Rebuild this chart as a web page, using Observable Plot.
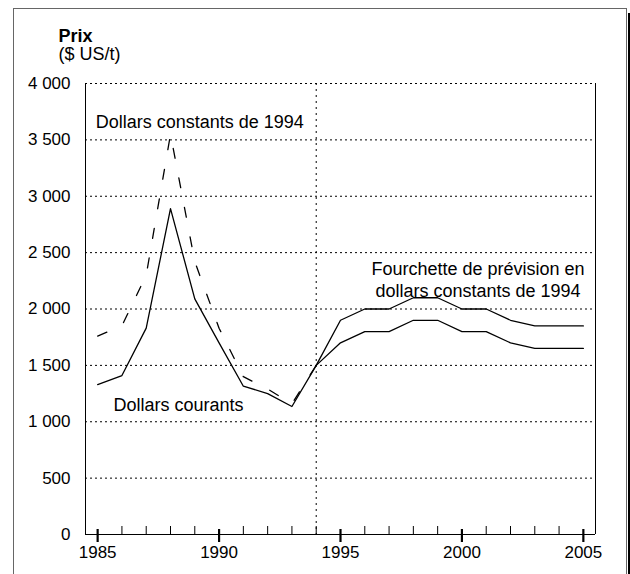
<!DOCTYPE html>
<html>
<head>
<meta charset="utf-8">
<script src="https://cdn.jsdelivr.net/npm/d3@7"></script>
<script src="https://cdn.jsdelivr.net/npm/@observablehq/plot@0.6"></script>
<style>
html, body { margin: 0; padding: 0; background: #fff; }
#wrap { position: relative; width: 630px; height: 574px; overflow: hidden; background: #fff; }
#frame { position: absolute; left: 13px; top: 8px; width: 612px; height: 640px; border: 1px solid #666; }
#shadow { position: absolute; left: 628px; top: 13px; width: 3px; height: 640px; background: #000; }
#chart { position: absolute; left: 0; top: 0; }
</style>
</head>
<body>
<div id="wrap"><div id="frame"></div><div id="shadow"></div><div id="chart"></div></div>
<script>
// Historical series
const yearsHist = [1985, 1986, 1987, 1988, 1989, 1990, 1991, 1992, 1993, 1994];
const currentDollars = [1330, 1410, 1830, 2890, 2090, 1700, 1315, 1250, 1135, 1500];
const constantDollars = [1760, 1850, 2300, 3550, 2420, 1830, 1400, 1290, 1160, 1500];

// Forecast range (constant 1994 dollars)
const yearsForecast = [1994, 1995, 1996, 1997, 1998, 1999, 2000, 2001, 2002, 2003, 2004, 2005];
const forecastHigh = [1500, 1900, 2000, 2000, 2100, 2100, 2000, 2000, 1900, 1850, 1850, 1850];
const forecastLow  = [1500, 1700, 1800, 1800, 1900, 1900, 1800, 1800, 1700, 1650, 1650, 1650];

// Axes
const xDomain = [1984.5, 2005.5];
const yDomain = [0, 4000];
const xMajorTicks = [1985, 1990, 1995, 2000, 2005];
const xMinorTicks = [1986, 1987, 1988, 1989, 1991, 1992, 1993, 1994, 1996, 1997, 1998, 1999, 2001, 2002, 2003, 2004];
const yTicks = [0, 500, 1000, 1500, 2000, 2500, 3000, 3500, 4000];
const yTickLabels = ["0", "500", "1 000", "1 500", "2 000", "2 500", "3 000", "3 500", "4 000"];
const dividerYear = [1994];

const hist = yearsHist.map((year, i) => ({year, current: currentDollars[i], constant: constantDollars[i]}));
const forecast = yearsForecast.map((year, i) => ({year, high: forecastHigh[i], low: forecastLow[i]}));

const font = "'Liberation Sans', Arial, Helvetica, sans-serif";

const chart = Plot.plot({
  width: 630,
  height: 574,
  marginLeft: 85,
  marginRight: 35,
  marginTop: 83,
  marginBottom: 40,
  style: {fontFamily: font, fontSize: "17px", background: "transparent", color: "#000"},
  x: {domain: xDomain, label: null},
  y: {domain: yDomain, label: null},
  marks: [
    Plot.ruleY(yTicks.filter(d => d > 0), {stroke: "#000", strokeWidth: 1, strokeDasharray: "2,3"}),
    Plot.ruleX(dividerYear, {stroke: "#000", strokeWidth: 1, strokeDasharray: "2,4"}),
    Plot.ruleX(xDomain, {stroke: "#000", strokeWidth: 1}),
    Plot.ruleY([0], {stroke: "#000", strokeWidth: 1}),
    Plot.axisY({ticks: yTicks, tickSize: 0, tickPadding: 15, label: null, fontSize: 17,
      tickFormat: d => yTickLabels[yTicks.indexOf(d)]}),
    Plot.axisX({ticks: xMajorTicks, tickSize: 0, tickPadding: 11, label: null, fontSize: 17,
      tickFormat: d => String(d)}),
    Plot.tickX(xMinorTicks, {x: d => d, insetTop: 443, stroke: "#000", strokeWidth: 1}),
    Plot.tickX(xMajorTicks, {x: d => d, insetTop: 446, insetBottom: -8, stroke: "#000", strokeWidth: 2.2}),
    Plot.line(hist, {x: "year", y: "constant", stroke: "#000", strokeWidth: 1.3, strokeDasharray: "10,20"}),
    Plot.line(hist, {x: "year", y: "current", stroke: "#000", strokeWidth: 1.3}),
    Plot.line(forecast, {x: "year", y: "high", stroke: "#000", strokeWidth: 1.3}),
    Plot.line(forecast, {x: "year", y: "low", stroke: "#000", strokeWidth: 1.3}),
    Plot.text(["Dollars constants de 1994"], {x: 1984.92, y: 3654, text: d => d, textAnchor: "start", fontSize: 18, fill: "#000"}),
    Plot.text(["Dollars courants"], {x: 1985.65, y: 1150, text: d => d, textAnchor: "start", fontSize: 18, fill: "#000"}),
    Plot.text(["Fourchette de prévision en\ndollars constants de 1994"], {x: 2000.66, y: 2270, text: d => d, textAnchor: "middle", lineHeight: 1.22, fontSize: 18, fill: "#000"}),
    Plot.text(["Prix"], {frameAnchor: "top-left", dx: -27, dy: -54.5, text: d => d, fontWeight: "bold", fontSize: 18, fill: "#000"}),
    Plot.text(["($ US/t)"], {frameAnchor: "top-left", dx: -27, dy: -36, text: d => d, fontSize: 18, fill: "#000"})
  ]
});
document.getElementById("chart").appendChild(chart);
</script>
</body>
</html>
